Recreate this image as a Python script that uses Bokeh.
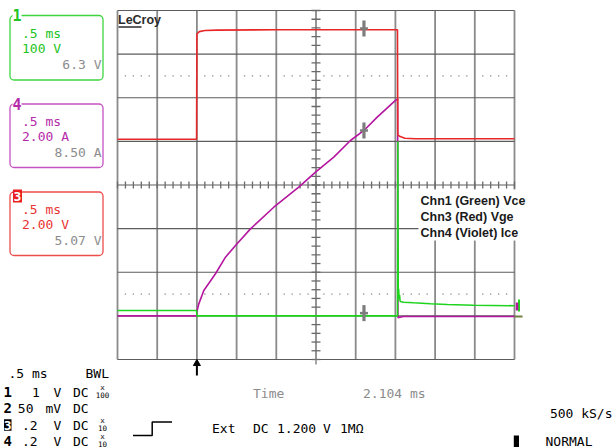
from bokeh.plotting import figure
from bokeh.models import Range1d, GlobalInlineStyleSheet
from bokeh.core.properties import value
from bokeh.embed import file_html
from bokeh.resources import INLINE

# ---------------- data (time in ms, trigger = 0) ----------------
vge_t = [-1.00, -0.004, 0.000, 0.030, 0.100, 0.250, 1.000, 2.104, 2.526, 2.530, 2.560, 2.620, 2.750, 4.000]
vge_v = [0.00, 0.00, 4.82, 4.93, 4.98, 5.00, 5.02, 5.02, 5.02, 0.20, 0.12, 0.04, 0.02, 0.02]

ice_t = [-1.00, -0.004, 0.004, 0.024, 0.087, 0.234, 0.360, 0.486, 0.675, 0.968,
         1.283, 1.494, 1.724, 1.934, 2.104, 2.271, 2.501, 2.528, 2.532, 2.600, 4.000]
ice_a = [0.00, 0.00, 0.25, 0.55, 1.16, 1.93, 2.69, 3.23, 3.99, 4.98,
         5.90, 6.59, 7.28, 8.04, 8.50, 9.11, 9.88, 9.95, -0.08, -0.03, -0.03]

vce_t = [-1.00, -0.004, 0.000, 2.527, 2.531, 2.536, 2.541, 2.546, 2.552, 2.560,
         2.603, 2.728, 2.942, 3.152, 3.484, 4.000]
vce_v = [12.4, 12.4, 0.0, 0.0, 400.0, 45.0, 62.0, 38.0, 48.0, 33.0,
         31.4, 30.0, 27.7, 26.1, 24.5, 23.2]

# channel settings (units per division, position of zero in divisions)
ch1_scale, ch1_zero = 100.0, -3.0   # Vce, green
ch3_scale, ch3_zero = 2.0, 1.05     # Vge, red
ch4_scale, ch4_zero = 2.0, -3.0     # Ice, violet

cursor_t = 2.104
cursor_ch1, cursor_ch3, cursor_ch4 = 6.3, 5.07, 8.50

# ---------------- layout: page pixel <-> data ----------------
W, H = 616, 448
OFF = 0             # the figure starts at the page's top-left corner
PX_MS = 79.4        # pixels per ms  (0.5 ms/div, 39.7 px/div)
PX_DIV = 43.625     # pixels per vertical division
X0 = -1.0 - (117 - OFF) / PX_MS
X1 = X0 + W / PX_MS
Y1 = 4.0 + (10 - OFF) / PX_DIV
Y0 = Y1 - H / PX_DIV


def dx(px):
    return -1.0 + (px - 117) / PX_MS


def dy(py):
    return 4.0 - (py - 10) / PX_DIV


p = figure(width=W, height=H, x_range=Range1d(X0, X1), y_range=Range1d(Y0, Y1),
           x_axis_type=None, y_axis_type=None, toolbar_location=None,
           output_backend="svg", min_border=0, outline_line_color=None,
           background_fill_color="white", border_fill_color="white")
p.stylesheets = [GlobalInlineStyleSheet(css="html, body { overflow: hidden; }")]


def chan_range(scale, zero):
    return Range1d((Y0 - zero) * scale, (Y1 - zero) * scale)


p.extra_y_ranges = {"ch1": chan_range(ch1_scale, ch1_zero),
                    "ch3": chan_range(ch3_scale, ch3_zero),
                    "ch4": chan_range(ch4_scale, ch4_zero)}

# ---------------- graticule ----------------
vx = [-1.0 + 0.5 * i for i in range(11)]
p.segment(x0=vx, x1=vx, y0=[-4] * 11, y1=[4] * 11, line_color="#8a8a8a", line_width=1.8)
hy = list(range(-4, 5))
p.segment(x0=[-1] * 9, x1=[4] * 9, y0=hy, y1=hy, line_color="#5c5c5c", line_width=1.2)

# center axes ticks
tx = [-1.0 + 0.1 * i for i in range(51)]
p.rect(x=tx, y=[0] * len(tx), width=1.3, height=7, width_units="screen", height_units="screen",
       fill_color="#6a6a6a", line_color=None)
ty = [-4.0 + 0.2 * i for i in range(41)]
p.rect(x=[1.5] * len(ty), y=ty, width=9, height=1.3, width_units="screen", height_units="screen",
       fill_color="#6a6a6a", line_color=None)
# dotted rows at +-2.5 div
dxs = [t for t in tx if abs(round(t * 2) - t * 2) > 1e-6]
p.rect(x=dxs * 2, y=[2.5] * len(dxs) + [-2.5] * len(dxs), width=1.3, height=1.3,
       width_units="screen", height_units="screen", fill_color="#8a8a8a", line_color=None)
# small tick under the bottom edge at center
p.segment(x0=[1.5], x1=[1.5], y0=[dy(359)], y1=[dy(364)], line_color="#8a8a8a", line_width=1.5)

# ---------------- traces ----------------
p.line(ice_t, ice_a, y_range_name="ch4", line_color="#b5169f", line_width=1.6)
p.line(vge_t, vge_v, y_range_name="ch3", line_color="#e82828", line_width=1.6)
p.line(vce_t, vce_v, y_range_name="ch1", line_color="#1fd41f", line_width=1.6)

# cursor markers
for val, rng in [(cursor_ch3, "ch3"), (cursor_ch4, "ch4"), (cursor_ch1, "ch1")]:
    p.rect(x=[cursor_t], y=[val], width=3.2, height=16, width_units="screen", height_units="screen",
           y_range_name=rng, fill_color="#7d7d7d", line_color=None)
    p.rect(x=[cursor_t], y=[val], width=8, height=2.5, width_units="screen", height_units="screen",
           y_range_name=rng, fill_color="#7d7d7d", line_color=None)

# trace end markers on the right edge
p.segment(x0=[dx(514)], x1=[dx(522)], y0=[dy(316)], y1=[dy(316)], line_color="#6f7f3f", line_width=2)
p.segment(x0=[dx(518.5)], x1=[dx(518.5)], y0=[dy(299)], y1=[dy(311)], line_color="#1fd41f", line_width=2)
p.segment(x0=[dx(516.5)], x1=[dx(516.5)], y0=[dy(302)], y1=[dy(310)], line_color="#b5169f", line_width=2.5)

MONO = value("DejaVu Sans Mono")
SANS = value("Liberation Sans")


def txt(px, py, s, color="#000000", size="13px", font=MONO, align="left", style="normal"):
    p.text(x=[dx(px)], y=[dy(py)], text=[s], text_color=color, text_font=font,
           text_font_size=value(size), text_align=align, text_baseline="middle",
           text_font_style=style)


# LeCroy logo
txt(117.5, 19.5, "LeCroy", "#2b2b2b", "12.5px", SANS, style="bold")
p.segment(x0=[dx(118)], x1=[dx(141)], y0=[dy(26.5)], y1=[dy(26.5)], line_color="#2b2b2b", line_width=1.6)

# channel legend (white background)
p.quad(left=[dx(418)], right=[dx(533)], top=[dy(189)], bottom=[dy(240)], fill_color="white", line_color=None)
legend_lines = ["Chn1 (Green) Vce", "Chn3 (Red) Vge", "Chn4 (Violet) Ice"]
for i, s in enumerate(legend_lines):
    txt(420, 200.5 + 15.8 * i, s, "#1a1a1a", "12.5px", SANS, style="bold")

# ---------------- left channel boxes ----------------
boxes = [
    (15, 79.5, "#3fd43f", "#22c422", "1", [".5 ms", "100 V"], "6.3 V", False),
    (103.5, 167, "#c552c2", "#b52aa8", "4", [".5 ms", "2.00 A"], "8.50 A", False),
    (191.5, 255, "#ec4c4c", "#e83434", "3", [".5 ms", "2.00 V"], "5.07 V", True),
]
for top, bot, bcol, tcol, lab, lines, meas, filled in boxes:
    p.quad(left=[dx(9.5)], right=[dx(102.5)], top=[dy(top)], bottom=[dy(bot)],
           fill_color=None, line_color=bcol, line_width=1.3, border_radius=4)
    if filled:
        p.quad(left=[dx(12.5)], right=[dx(21.5)], top=[dy(top - 2.5)], bottom=[dy(top + 10.5)],
               fill_color="#e82020", line_color=None)
        txt(17, top + 4, lab, "white", "13px", MONO, "center", "bold")
    else:
        p.quad(left=[dx(12)], right=[dx(21)], top=[dy(top - 2)], bottom=[dy(top + 3)],
               fill_color="white", line_color=None)
        txt(16.5, top - 0.5, lab, tcol, "15px", MONO, "center", "bold")
    txt(21.5, top + 17.5, lines[0], tcol)
    txt(21.5, top + 32.5, lines[1], tcol)
    txt(101, top + 48.5, meas, "#8c8c8c", align="right")

# ---------------- bottom status text ----------------
txt(8, 372.5, ".5 ms")
txt(85, 372.5, "BWL")
rows = [
    (391.7, "1", "1", 31.5, "V", "DC", "100"),
    (407.8, "2", "50", 17.3, "mV", "DC", ""),
    (424.8, "3", ".2", 21.5, "V", "DC", "10"),
    (440.5, "4", ".2", 21.5, "V", "DC", "10"),
]
for ry, num, amp, ax, unit, cpl, att in rows:
    if num == "3":
        p.quad(left=[dx(3.5)], right=[dx(11)], top=[dy(ry - 6)], bottom=[dy(ry + 5.5)],
               fill_color="black", line_color=None)
        txt(7.2, ry, num, "white", "13px", MONO, "center", "bold")
    else:
        txt(7.2, ry, num, "black", "14px", MONO, "center", "bold")
    txt(ax, ry, amp)
    txt(45 if unit == "mV" else 53, ry, unit)
    txt(72.5, ry, cpl)
    if att:
        txt(102, ry - 4.5, "x", "black", "7.5px", MONO, "center")
        txt(102, ry + 2.5, att, "black", "7.5px", MONO, "center")

# trigger symbol (step)
p.line([dx(132.5), dx(151.7), dx(151.7), dx(171.5)], [dy(435), dy(435), dy(421.5), dy(421.5)],
       line_color="black", line_width=1.5)
txt(211.5, 427.5, "Ext")
txt(252.5, 427.5, "DC")
txt(276.5, 427.5, "1.200")
txt(322.5, 427.5, "V")
txt(339.5, 427.5, "1MΩ")

txt(252.5, 393, "Time", "#8c8c8c")
txt(362.5, 393, "2.104 ms", "#8c8c8c")
txt(612, 412.5, "500 kS/s", align="right")
p.quad(left=[dx(513.3)], right=[dx(518.5)], top=[dy(435)], bottom=[dy(446.5)], fill_color="black", line_color=None)
txt(545, 441, "NORMAL")

# trigger arrow under the grid
p.segment(x0=[0.0], x1=[0.0], y0=[dy(375)], y1=[dy(364)], line_color="black", line_width=2)
p.scatter(x=[0.0], y=[dy(363)], marker="triangle", size=7, fill_color="black", line_color="black")

open("out.html", "w").write(file_html(p, INLINE))
